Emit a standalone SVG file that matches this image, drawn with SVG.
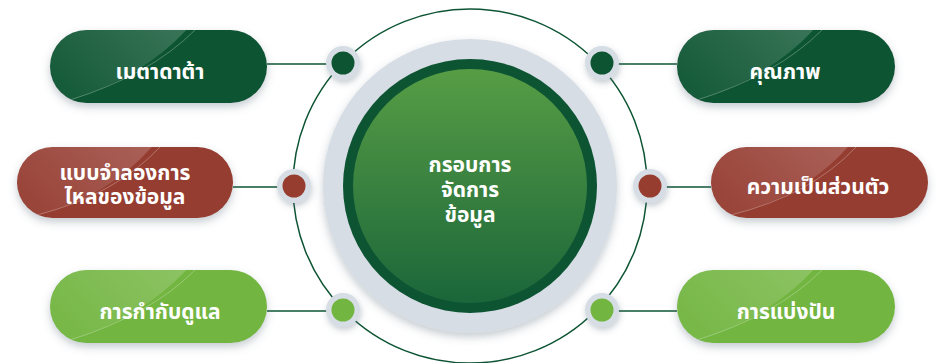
<svg xmlns="http://www.w3.org/2000/svg" width="949" height="363" viewBox="0 0 949 363">
<defs>
<style>
.lbl{font-family:"Noto Sans Thai","Noto Sans","DejaVu Sans",sans-serif;font-weight:bold;font-size:21px;fill:#ffffff;text-anchor:middle}
.conn{stroke:#0d5433;stroke-width:1.5;fill:none}
.halo{fill:#d6dde4}
.gloss{fill:url(#gl)}
.glossline{stroke:#ffffff;stroke-width:0.8;opacity:0.35;fill:none}
</style>
<linearGradient id="gl" x1="0" y1="0.5" x2="1" y2="0">
<stop offset="0" stop-color="#ffffff" stop-opacity="0.04"/>
<stop offset="1" stop-color="#ffffff" stop-opacity="0.2"/>
</linearGradient>
<filter id="sh" x="-20%" y="-30%" width="140%" height="170%">
<feDropShadow dx="0" dy="4" stdDeviation="4" flood-color="#5a6a7a" flood-opacity="0.35"/>
</filter>
<filter id="sh2" x="-30%" y="-30%" width="160%" height="160%">
<feDropShadow dx="1" dy="3" stdDeviation="3" flood-color="#5a6a7a" flood-opacity="0.35"/>
</filter>
<linearGradient id="cg" x1="0" y1="0" x2="0" y2="1">
<stop offset="0" stop-color="#579d45"/>
<stop offset="1" stop-color="#1b663a"/>
</linearGradient>
<clipPath id="p1"><rect x="50" y="30" width="217" height="73" rx="36.5"/></clipPath>
<clipPath id="p2"><rect x="17" y="147" width="216" height="71" rx="35.5"/></clipPath>
<clipPath id="p3"><rect x="50" y="270" width="217" height="73" rx="36.5"/></clipPath>
<clipPath id="p4"><rect x="677" y="30" width="218" height="73" rx="36.5"/></clipPath>
<clipPath id="p5"><rect x="711" y="147" width="217" height="71" rx="35.5"/></clipPath>
<clipPath id="p6"><rect x="677" y="270" width="218" height="73" rx="36.5"/></clipPath>
</defs>
<rect width="949" height="363" fill="#ffffff"/>

<g id="connectors">
<circle cx="470" cy="186" r="177" class="conn"/>
<line x1="267" y1="64" x2="330" y2="64" class="conn"/>
<line x1="233" y1="187" x2="280" y2="187" class="conn"/>
<line x1="267" y1="311" x2="330" y2="311" class="conn"/>
<line x1="615" y1="64" x2="677" y2="64" class="conn"/>
<line x1="664" y1="187" x2="711" y2="187" class="conn"/>
<line x1="615" y1="311" x2="677" y2="311" class="conn"/>
</g>

<g id="center">
<circle cx="470" cy="186" r="147" class="halo" filter="url(#sh)"/>
<circle cx="470" cy="186" r="127" fill="#0d5433"/>
<circle cx="470" cy="186" r="117" fill="url(#cg)"/>
<text class="lbl" x="470" y="172"><tspan x="470" y="172">กรอบการ</tspan><tspan x="470" y="197">จัดการ</tspan><tspan x="470" y="222">ข้อมูล</tspan></text>
</g>

<g id="dot-tl"><circle cx="343" cy="63" r="17" class="halo" filter="url(#sh2)"/><circle cx="343" cy="63" r="11.5" fill="#0d5433"/></g>
<g id="dot-ml"><circle cx="294" cy="186" r="17" class="halo" filter="url(#sh2)"/><circle cx="294" cy="186" r="11.5" fill="#963d30"/></g>
<g id="dot-bl"><circle cx="343" cy="310" r="17" class="halo" filter="url(#sh2)"/><circle cx="343" cy="310" r="11.5" fill="#72b541"/></g>
<g id="dot-tr"><circle cx="602" cy="63" r="17" class="halo" filter="url(#sh2)"/><circle cx="602" cy="63" r="11.5" fill="#0d5433"/></g>
<g id="dot-mr"><circle cx="650" cy="186" r="17" class="halo" filter="url(#sh2)"/><circle cx="650" cy="186" r="11.5" fill="#963d30"/></g>
<g id="dot-br"><circle cx="602" cy="310" r="17" class="halo" filter="url(#sh2)"/><circle cx="602" cy="310" r="11.5" fill="#72b541"/></g>

<g id="node-metadata">
<rect x="50" y="30" width="217" height="73" rx="36.5" fill="#0d5433" filter="url(#sh)"/>
<g clip-path="url(#p1)"><path d="M40 20 H195 Q150 75 70 100 L40 100 Z" class="gloss"/><path d="M195 30 Q150 75 70 100" class="glossline"/></g>
<text class="lbl" x="160" y="79">เมตาดาต้า</text>
</g>

<g id="node-dataflow">
<rect x="17" y="147" width="216" height="71" rx="35.5" fill="#963d30" filter="url(#sh)"/>
<g clip-path="url(#p2)"><path d="M7 137 H160 Q115 195 37 215 L7 215 Z" class="gloss"/><path d="M160 147 Q115 195 37 215" class="glossline"/></g>
<text class="lbl" x="125" y="180"><tspan x="125" y="180">แบบจำลองการ</tspan><tspan x="125" y="204">ไหลของข้อมูล</tspan></text>
</g>

<g id="node-governance">
<rect x="50" y="270" width="217" height="73" rx="36.5" fill="#72b541" filter="url(#sh)"/>
<g clip-path="url(#p3)"><path d="M40 260 H195 Q150 315 70 340 L40 340 Z" class="gloss"/><path d="M195 270 Q150 315 70 340" class="glossline"/></g>
<text class="lbl" x="160" y="319">การกำกับดูแล</text>
</g>

<g id="node-quality">
<rect x="677" y="30" width="218" height="73" rx="36.5" fill="#0d5433" filter="url(#sh)"/>
<g clip-path="url(#p4)"><path d="M667 20 H822 Q777 75 697 100 L667 100 Z" class="gloss"/><path d="M822 30 Q777 75 697 100" class="glossline"/></g>
<text class="lbl" x="785" y="79">คุณภาพ</text>
</g>

<g id="node-privacy">
<rect x="711" y="147" width="217" height="71" rx="35.5" fill="#963d30" filter="url(#sh)"/>
<g clip-path="url(#p5)"><path d="M701 137 H856 Q811 195 731 215 L701 215 Z" class="gloss"/><path d="M856 147 Q811 195 731 215" class="glossline"/></g>
<text class="lbl" x="818" y="194">ความเป็นส่วนตัว</text>
</g>

<g id="node-sharing">
<rect x="677" y="270" width="218" height="73" rx="36.5" fill="#72b541" filter="url(#sh)"/>
<g clip-path="url(#p6)"><path d="M667 260 H822 Q777 315 697 340 L667 340 Z" class="gloss"/><path d="M822 270 Q777 315 697 340" class="glossline"/></g>
<text class="lbl" x="786" y="319">การแบ่งปัน</text>
</g>
</svg>
